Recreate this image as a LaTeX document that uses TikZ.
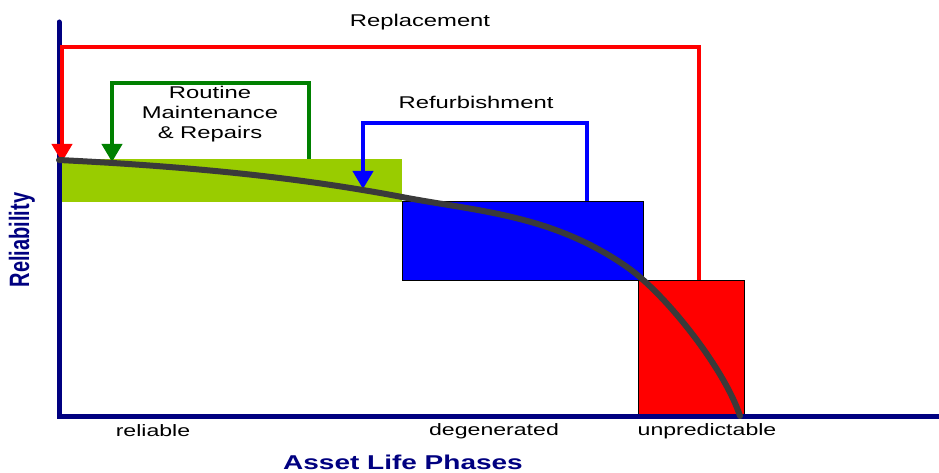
\documentclass[tikz,border=0pt]{standalone}
\usepackage{fontspec}
\setmainfont{Liberation Sans}
\usetikzlibrary{arrows.meta}
\definecolor{axisnavy}{RGB}{0,0,128}
\definecolor{bandgreen}{RGB}{153,204,0}
\definecolor{curvegray}{RGB}{58,58,58}
\definecolor{loopgreen}{RGB}{0,128,0}
\tikzset{
  axisline/.style={draw=axisnavy,line width=5pt,line cap=round},
  phasebox/.style={draw=black,line width=0.8pt,inner sep=0pt,minimum width=#1},
  loopline/.style={line width=4pt,-{Triangle[width=20pt,length=18pt]}},
  lbl/.style={font=\fontsize{17}{20}\selectfont,xscale=1.4,align=center,inner sep=0pt},
  phaselbl/.style={font=\fontsize{16.5}{19}\selectfont,xscale=1.4,inner sep=0pt},
  axislbl/.style={font=\bfseries\fontsize{20}{23}\selectfont,text=axisnavy,inner sep=0pt}
}
\begin{document}
\begin{tikzpicture}[x=1pt,y=-1pt]
\useasboundingbox (0,0) rectangle (939,473);
% phase blocks
\node[fill=bandgreen,inner sep=0pt,minimum width=343pt,minimum height=43pt,anchor=north west] (band) at (59,159) {};
\node[phasebox=241pt,fill=blue,minimum height=79pt,anchor=north west] (blk) at (402,201) {};
\node[phasebox=106pt,fill=red,minimum height=136pt,anchor=north west] (rblk) at (638,280) {};
% axes
\coordinate (origin) at (59,416);
\coordinate (ytop) at (59,22);
\coordinate (xend) at (939,416);
\draw[axisline] (ytop) -- (origin) -- (xend);
% maintenance loops
\coordinate (repstart) at (699,280);
\coordinate (reptip) at (62,162);
\draw[loopline,red] (repstart) |- (62,47) -- (reptip);
\coordinate (rmstart) at (309,159);
\coordinate (rmtip) at (112,162);
\draw[loopline,loopgreen] (rmstart) |- (112,83) -- (rmtip);
\coordinate (rfstart) at (587,201);
\coordinate (rftip) at (363,189);
\draw[loopline,blue] (rfstart) |- (363,123) -- (rftip);
% reliability curve: three cubic pieces with matching tangents
\coordinate (c0) at (59,160);
\coordinate (c1) at (402,197);
\coordinate (c2) at (627,267);
\coordinate (c3) at (740,416);
\draw[curvegray,line width=6pt,line cap=round]
  (c0) .. controls (173,165.7) and (288,175.3) .. (c1)
       .. controls (477,211.3) and (552,214.5) .. (c2)
       .. controls (667,295) and (725,370) .. (c3);
% labels
\node[lbl] (replbl) at (420,22) {Replacement};
\node[lbl] (rmlbl) at (210,114) {Routine\\Maintenance\\\&\ Repairs};
\node[lbl] (rflbl) at (476,102) {Refurbishment};
\node[phaselbl] (p1) at (153,431) {reliable};
\node[phaselbl] (p2) at (494,431) {degenerated};
\node[phaselbl] (p3) at (707,431) {unpredictable};
\node[axislbl,xscale=1.4] (xlbl) at (403,462) {Asset Life Phases};
\node[axislbl,rotate=90,yscale=1.4] (ylbl) at (22,240) {Reliability};
\end{tikzpicture}
\end{document}
